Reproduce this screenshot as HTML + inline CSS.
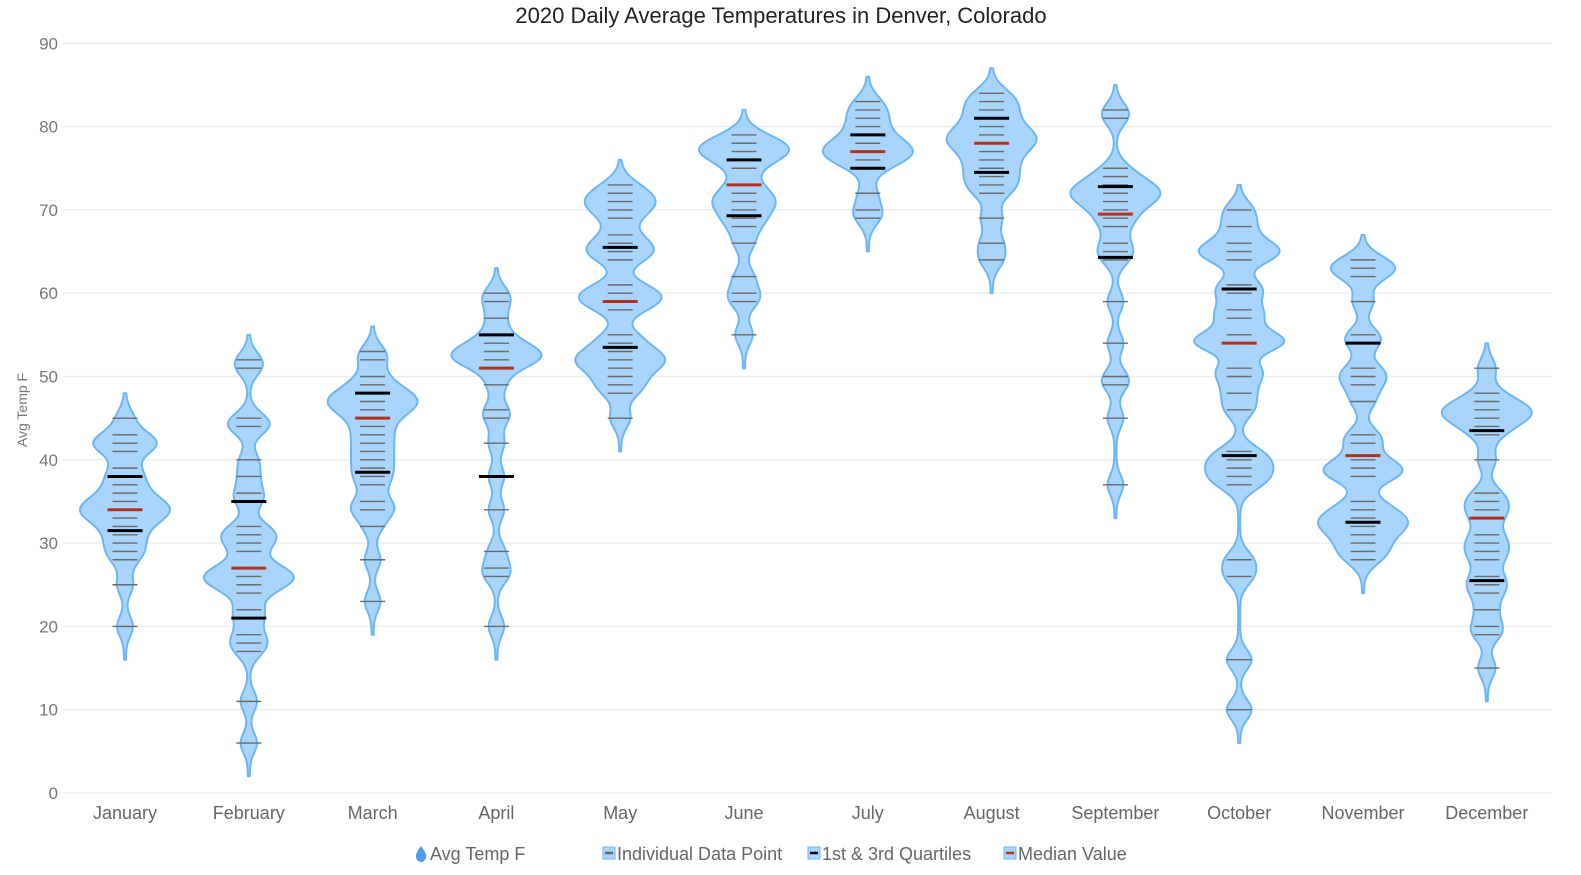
<!DOCTYPE html>
<html><head><meta charset="utf-8"><style>
html,body{margin:0;padding:0;background:#fff;}
svg{display:block;font-family:"Liberation Sans",sans-serif;}
</style></head><body>
<svg id="chart" width="1581" height="875"></svg>
<script>
const months=["January","February","March","April","May","June","July","August","September","October","November","December"];
const points=[
[45,43,42,42,42,41,39,38,37,36,35,35,34,34,34,33,33,32,31,30,29,28,25,20],
[52,51,45,44,44,40,38,36,35,32,31,31,30,29,27,26,26,26,25,25,27,24,22,21,19,18,17,11,6],
[53,52,50,49,48,48,47,47,47,46,46,45,44,43,42,41,40,39,38,37,35,34,34,32,28,23],
[60,59,57,55,54,53,53,53,52,52,52,51,49,46,45,42,38,34,29,27,26,20],
[73,72,71,71,70,69,67,66,65,65,64,61,60,60,59,59,58,55,54,53,52,52,52,51,50,49,48,45],
[79,78,78,77,77,77,76,75,73,72,71,71,70,69,68,66,62,60,59,55],
[83,82,81,80,79,78,78,77,77,77,76,76,75,72,70,69],
[84,83,82,81,80,79,79,78,78,77,76,75,74,73,72,69,66,64],
[82,81,75,74,73,73,72,72,72,71,71,70,69,68,66,65,64,59,54,50,49,45,37],
[70,68,66,65,65,64,61,60,58,57,55,54,54,54,51,50,48,46,41,40,39,38,37,28,26,16,10],
[64,63,63,62,59,55,54,51,50,49,47,43,42,40,39,39,38,38,35,34,33,33,32,32,31,30,29,28],
[51,48,46,46,46,45,45,44,47,43,40,36,35,34,33,31,30,29,28,26,25,24,22,20,19,15]
];
const q1=[31.5,21,38.5,38,53.5,69.3,75,74.5,64.3,40.5,32.5,25.5];
const medians=[34,27,45,51,59,73,77,78,69.5,54,40.5,33];
const q3=[38,35,48,55,65.5,76,79,81,72.8,60.5,54,43.5];
const yTicks=[0,10,20,30,40,50,60,70,80,90];

const NS="http://www.w3.org/2000/svg";
const svg=document.getElementById('chart');
function mk(tag,attrs,parent){const e=document.createElementNS(NS,tag);for(const k in attrs)e.setAttribute(k,attrs[k]);(parent||svg).appendChild(e);return e;}
const X0=63,X1=1552;
function xPos(i){return 125+i*123.8;}
function yPos(v){return 793-v*8.33;}

const title=mk('text',{x:781,y:23,'text-anchor':'middle','font-size':22,fill:'#222'});
title.textContent="2020 Daily Average Temperatures in Denver, Colorado";



yTicks.forEach(t=>{
  const g=mk('line',{x1:X0,x2:X1,y1:yPos(t),y2:yPos(t),stroke:'#ececec','stroke-width':1.3});
  
  
  const l=mk('text',{x:58,y:yPos(t)+6,'text-anchor':'end','font-size':17,fill:'#777'});
  l.textContent=t;
  
  
});
const yt=mk('text',{x:0,y:0,transform:'translate(27,410) rotate(-90)','text-anchor':'middle','font-size':14,fill:'#777'});
yt.textContent="Avg Temp F";



const bw=1.2;
months.forEach((m,i)=>{
  const cx=xPos(i);
  const pts=points[i];
  const lo=Math.min(...pts)-4, hi=Math.max(...pts)+3;
  const prof=[];
  let mx=0;
  for(let v=lo;v<=hi+1e-9;v+=0.1){
    let d=0;pts.forEach(p=>{d+=Math.exp(-0.5*((v-p)/bw)**2);});
    prof.push([v,d]);if(d>mx)mx=d;
  }
  let right=[],left=[];
  prof.forEach(([v,d])=>{const w=1+44*d/mx;right.push([cx+w,yPos(v)]);left.push([cx-w,yPos(v)]);});
  const pathPts=[[cx,yPos(lo)],...right,[cx,yPos(hi)],...left.reverse()];
  const dstr='M'+pathPts.map(p=>p[0].toFixed(1)+','+p[1].toFixed(1)).join('L')+'Z';
  const vp=mk('path',{d:dstr,fill:'#a9d4fb',stroke:'#6cb6f5','stroke-width':2,'stroke-linejoin':'round'});
  
  
  [...new Set(pts)].forEach(p=>{
    const t=mk('line',{x1:cx-12.5,x2:cx+12.5,y1:yPos(p),y2:yPos(p),stroke:'#6a6a6a','stroke-width':1.4});
    
    
  });
  [q1[i],q3[i]].forEach(q=>{
    const t=mk('line',{x1:cx-17.5,x2:cx+17.5,y1:yPos(q),y2:yPos(q),stroke:'#000','stroke-width':3});
    
    
  });
  const md=mk('line',{x1:cx-17.5,x2:cx+17.5,y1:yPos(medians[i]),y2:yPos(medians[i]),stroke:'#b3321f','stroke-width':3});
  
  
  const xl=mk('text',{x:cx,y:819,'text-anchor':'middle','font-size':18,fill:'#666'});
  xl.textContent=m;
  
  
});

// legend
const lg=mk('g',{});


const drop=mk('path',{d:'M421,846 Q415,854 416,857 A5,5 0 0 0 426,857 Q427,854 421,846Z',fill:'#4a9ff0'},lg);


const items=[[430,"Avg Temp F",null],[617,"Individual Data Point",'#666'],[822,"1st & 3rd Quartiles",'#000'],[1018,"Median Value",'#b3321f']];
items.forEach(([x,txt,c])=>{
  if(c){
    const r=mk('rect',{x:x-14,y:847,width:12,height:12,fill:'#a9d4fb',stroke:'#6cb6f5','stroke-width':1},lg);
    
    
    const l=mk('line',{x1:x-12,x2:x-4,y1:853,y2:853,stroke:c,'stroke-width':2.5},lg);
    
    
  }
  const t=mk('text',{x:x,y:860,'font-size':18,fill:'#666'},lg);
  t.textContent=txt;
  
  
});
</script>
</body></html>
